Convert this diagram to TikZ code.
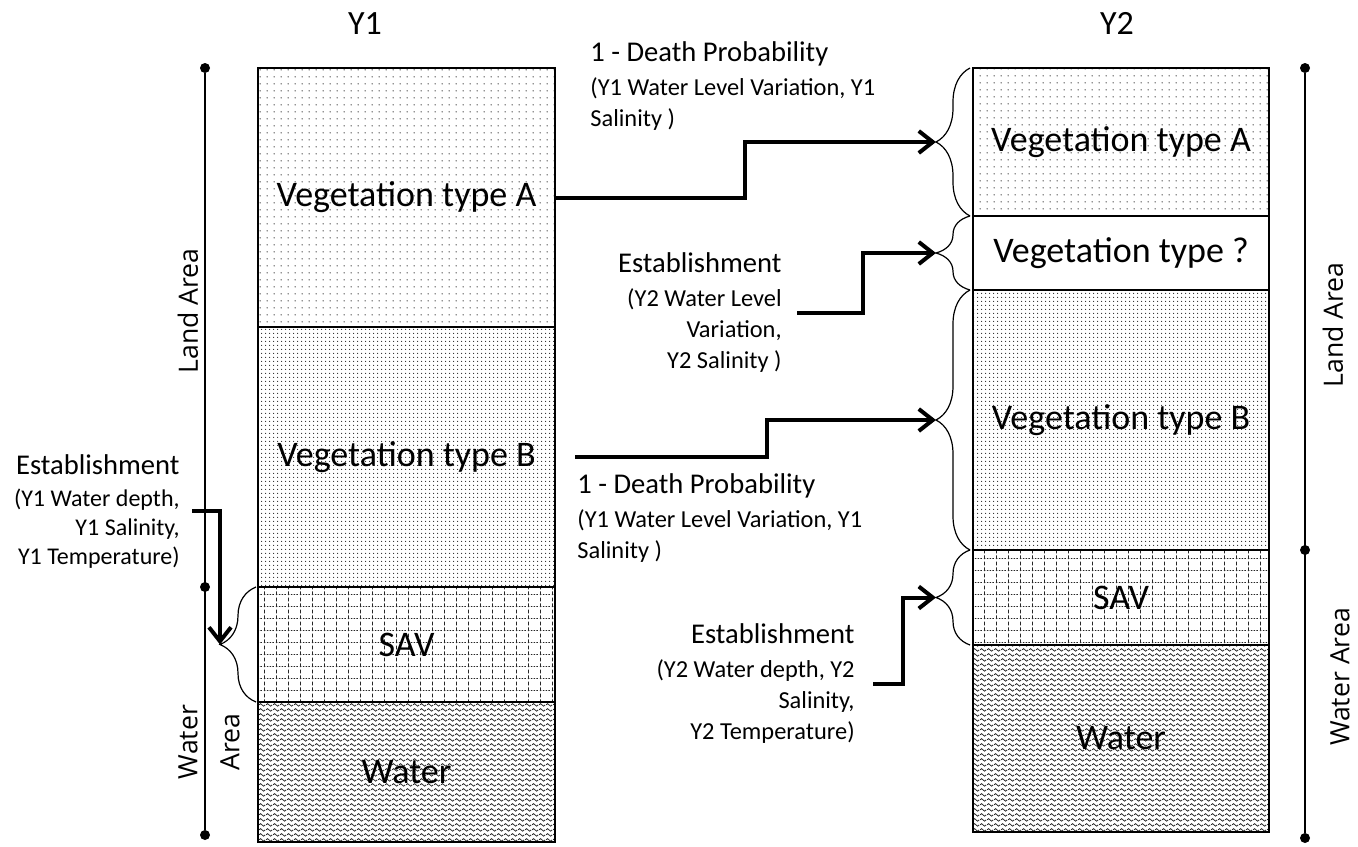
\documentclass[tikz,border=0pt]{standalone}
\usepackage{fontspec}
\setmainfont{Carlito}
\newfontfamily\sidefont{Open Sans}
\usetikzlibrary{arrows.meta}
\usetikzlibrary{patterns.meta}
\usetikzlibrary{decorations.pathreplacing}
\newcommand\titlesize{\fontsize{17}{20}\selectfont}
\newcommand\vegsize{\fontsize{18}{21}\selectfont}
\newcommand\headsize{\fontsize{14.3}{17}\selectfont}
\newcommand\subsize{\fontsize{12.2}{15.5}\selectfont}
\tikzdeclarepattern{name=sparsedots, type=uncolored,
  bounding box={(0pt,0pt) and (3.3pt,3.3pt)}, tile size={(3.3pt,3.3pt)},
  code={\fill (1.65pt,1.65pt) circle (.36pt);}}
\tikzdeclarepattern{name=densedots, type=uncolored,
  bounding box={(0pt,0pt) and (2pt,2pt)}, tile size={(2pt,2pt)},
  code={\fill (1pt,1pt) circle (.34pt);}}
\tikzdeclarepattern{name=savgrid, type=uncolored,
  bounding box={(0pt,0pt) and (6pt,6pt)}, tile size={(6pt,6pt)},
  code={\draw[line width=.4pt, dash pattern=on .8pt off .7pt] (0pt,.3pt) -- (6pt,.3pt);
        \draw[line width=.4pt, dash pattern=on 2pt off 1pt] (.3pt,0pt) -- (.3pt,6pt);}}
\tikzdeclarepattern{name=waves, type=uncolored,
  bounding box={(0pt,0pt) and (3.5pt,2.5pt)}, tile size={(3.5pt,2.5pt)},
  code={\draw[line width=.45pt] (0pt,1.25pt) sin (.875pt,2pt) cos (1.75pt,1.25pt)
        sin (2.625pt,.5pt) cos (3.5pt,1.25pt);}}

\begin{document}
\begin{tikzpicture}[x=0.5pt,y=-0.5pt,
  cell/.style={draw, line width=.6pt, inner sep=0pt, outer sep=0pt, font=\vegsize, pattern color=black!85},
  col1/.style={cell, minimum width=148.5pt},
  col2/.style={cell, minimum width=148pt},
  flow/.style={-{Straight Barb[length=7pt,width=11pt]}, line width=2pt},
  curly/.style={decorate, decoration={brace, amplitude=17pt}, line width=.6pt},
  dot/.style={circle, fill, inner sep=0pt, minimum size=5pt},
  side/.style={rotate=90, font=\sidefont\fontsize{13.3}{16}\selectfont},
  note/.style={inner sep=0pt, font=\subsize}]
\useasboundingbox (0,0) rectangle (1358,846);

\node[font=\titlesize] (y1) at (365,24) {Y1};
\node[col1, pattern=sparsedots, minimum height=129.5pt] (vA1) at (406.5,197.5) {Vegetation type A};
\node[col1, pattern=densedots, minimum height=130pt] (vB1) at (406.5,457) {Vegetation type B};
\node[col1, pattern=savgrid, minimum height=57.5pt] (sav1) at (406.5,644.5) {SAV};
\node[col1, pattern=waves, minimum height=70pt] (wat1) at (406.5,772) {Water};

\node[font=\titlesize] (y2) at (1117,23) {Y2};
\node[col2, pattern=sparsedots, minimum height=74pt] (vA2) at (1121,142) {Vegetation type A};
\node[col2, minimum height=37pt] (vQ2) at (1121,253) {Vegetation type ?};
\node[col2, pattern=densedots, minimum height=130pt] (vB2) at (1121,420) {Vegetation type B};
\node[col2, pattern=savgrid, minimum height=47.5pt] (sav2) at (1121,597.5) {SAV};
\node[col2, pattern=waves, minimum height=93.5pt] (wat2) at (1121,738.5) {Water};

\node[dot] (l1) at (205,68) {};
\node[dot] (l2) at (205,587) {};
\node[dot] (l3) at (205,835) {};
\draw[line width=.8pt] (l1) -- (l3);
\node[side] (land1) at (188,311) {Land Area};
\node[side, align=center] (water1) at (209,742) {Water\\[5pt]Area};

\node[dot] (r1) at (1305,68) {};
\node[dot] (r2) at (1305,550) {};
\node[dot] (r3) at (1305,838) {};
\draw[line width=.8pt] (r1) -- (r3);
\node[side] (land2) at (1333,325) {Land Area};
\node[side] (water2) at (1340,677) {Water Area};

\draw[curly] ([xshift=-1.5pt]vA2.south west) -- ([xshift=-1.5pt]vA2.north west);
\draw[curly] ([xshift=-1.5pt]vQ2.south west) -- ([xshift=-1.5pt]vQ2.north west);
\draw[curly] ([xshift=-1.5pt]vB2.south west) -- ([xshift=-1.5pt]vB2.north west);
\draw[curly] ([xshift=-1.5pt]sav2.south west) -- ([xshift=-1.5pt]sav2.north west);
\draw[curly, decoration={amplitude=18pt}] ([xshift=-1pt]sav1.south west) -- ([xshift=-1pt]sav1.north west);
\coordinate (tA2) at ([xshift=-18.5pt]vA2.west);
\coordinate (tQ2) at ([xshift=-18.5pt]vQ2.west);
\coordinate (tB2) at ([xshift=-18.5pt]vB2.west);
\coordinate (tS2) at ([xshift=-18.5pt]sav2.west);
\coordinate (tS1) at ([xshift=-19pt]sav1.west);

\node[note, anchor=west, align=left] (dp1) at (590,86)
  {\headsize 1 - Death Probability\\[1.5pt] (Y1 Water Level Variation, Y1\\ Salinity )};
\node[note, anchor=west, align=left] (dp2) at (577,518)
  {\headsize 1 - Death Probability\\[1.5pt] (Y1 Water Level Variation, Y1\\ Salinity )};
\node[note, anchor=east, align=right] (est2) at (782,313)
  {\headsize Establishment\\[1.5pt] (Y2 Water Level\\ Variation,\\ Y2 Salinity )};
\node[note, anchor=east, align=right] (est3) at (855,684)
  {\headsize Establishment\\[1.5pt] (Y2 Water depth, Y2\\ Salinity,\\ Y2 Temperature)};
\node[note, anchor=east, align=right, font=\fontsize{12}{14.5}\selectfont] (est1) at (180,511)
  {\headsize Establishment\\[1.5pt] (Y1 Water depth,\\ Y1 Salinity,\\ Y1 Temperature)};

\draw[flow] (vA1.east) -- ++(190,0) |- (tA2);
\draw[flow] ([xshift=7.5pt]est2.east) -- ++(66,0) |- (tQ2);
\draw[flow] ([xshift=10pt]vB1.east) -- ++(192,0) |- (tB2);
\draw[flow] ([xshift=9pt]est3.east) -- ++(30,0) |- (tS2);
\draw[flow] ([xshift=6pt]est1.east) -| (tS1);
\end{tikzpicture}
\end{document}
